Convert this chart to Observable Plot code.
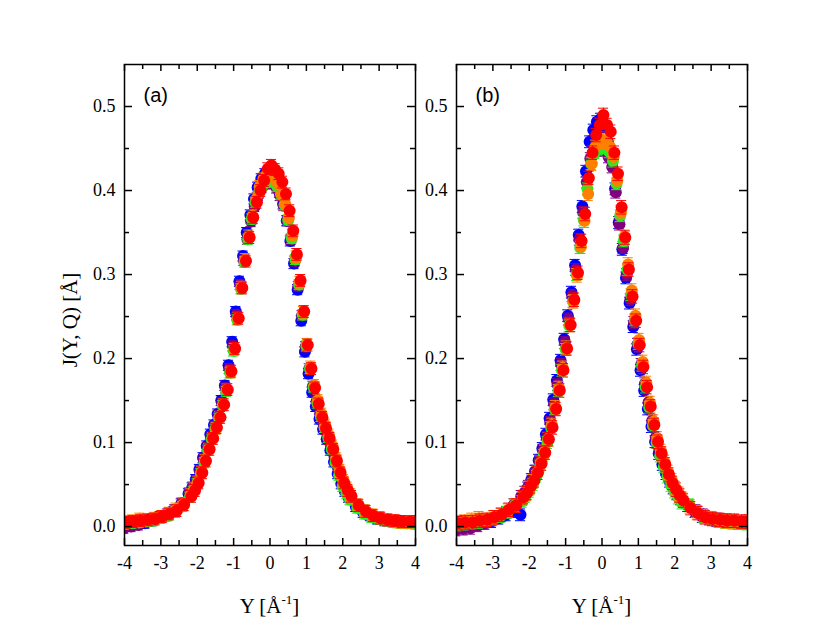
<!DOCTYPE html>
<html><head><meta charset="utf-8">
<script src="https://cdn.jsdelivr.net/npm/d3@7"></script>
<script src="https://cdn.jsdelivr.net/npm/@observablehq/plot@0.6"></script>
<style>
body{margin:0;background:#fff;}
#wrap{position:relative;width:830px;height:642px;overflow:hidden;background:#fff;}
#wrap svg{position:absolute;top:0;}
#wrap svg text.serif{font-family:"Liberation Serif","Times New Roman",serif !important;}
#wrap svg text.sans{font-family:"Liberation Sans",Arial,sans-serif !important;}
</style></head><body><div id="wrap"></div>
<script>
// Y grid (Å^-1) shared by all series
const yGrid = [-4.0,-3.8,-3.6,-3.4,-3.2,-3.0,-2.8,-2.6,-2.4,
  -2.2,-2.1,-2.0,-1.9,-1.8,-1.7,-1.6,-1.5,-1.4,-1.3,-1.2,-1.1,-1.0,-0.9,-0.8,-0.7,-0.6,-0.5,-0.4,-0.3,-0.2,-0.1,
  0.0,0.1,0.2,0.3,0.4,0.5,0.6,0.7,0.8,0.9,1.0,1.1,1.2,1.3,1.4,1.5,1.6,1.7,1.8,1.9,2.0,2.1,2.2,
  2.4,2.6,2.8,3.0,3.2,3.4,3.6,3.8,4.0];
const seriesColors = ["#0000ff","#800080","#22ee22","#ff8000","#ff0000"];
const seriesShift = [-0.04,-0.02,0.0,0.02,0.04];
const errA = [0.006,0.006,0.006,0.007,0.007];
const errB = [0.007,0.007,0.007,0.008,0.008];

// Panel (a)
const aBlue = [0.001,0.001,0.003,0.004,0.007,0.010,0.013,0.018,0.027,
  0.039,0.046,0.056,0.068,0.082,0.096,0.110,0.121,0.134,0.150,0.168,0.192,0.220,0.256,0.292,0.322,0.350,0.371,0.390,0.404,0.414,0.420,
  0.422,0.418,0.410,0.398,0.384,0.364,0.340,0.313,0.282,0.245,0.208,0.182,0.160,0.143,0.128,0.116,0.104,0.091,0.077,0.063,0.051,0.042,0.035,
  0.024,0.017,0.013,0.009,0.007,0.006,0.005,0.004,0.005];
const aPurple = [-0.002,0.000,0.002,0.006,0.009,0.012,0.015,0.020,0.028,
  0.040,0.047,0.055,0.066,0.080,0.094,0.107,0.119,0.132,0.147,0.165,0.188,0.215,0.252,0.288,0.317,0.342,0.363,0.381,0.394,0.404,0.408,
  0.410,0.408,0.403,0.394,0.382,0.364,0.342,0.316,0.286,0.251,0.214,0.188,0.167,0.149,0.134,0.121,0.109,0.096,0.082,0.068,0.056,0.047,0.039,
  0.027,0.020,0.014,0.010,0.008,0.007,0.007,0.005,0.004];
const aGreen = [0.003,0.004,0.005,0.006,0.007,0.010,0.013,0.017,0.024,
  0.035,0.042,0.051,0.063,0.076,0.091,0.104,0.116,0.129,0.144,0.161,0.183,0.209,0.246,0.283,0.315,0.342,0.366,0.386,0.398,0.406,0.410,
  0.412,0.410,0.405,0.396,0.383,0.365,0.343,0.318,0.288,0.252,0.215,0.188,0.166,0.147,0.131,0.118,0.106,0.092,0.076,0.061,0.048,0.039,0.032,
  0.022,0.015,0.011,0.009,0.007,0.005,0.004,0.004,0.003];
const aOrange = [0.006,0.007,0.009,0.008,0.010,0.012,0.016,0.021,0.027,
  0.038,0.045,0.053,0.065,0.079,0.092,0.105,0.117,0.130,0.145,0.163,0.184,0.211,0.248,0.285,0.318,0.346,0.370,0.390,0.405,0.414,0.420,
  0.418,0.415,0.408,0.396,0.384,0.368,0.347,0.321,0.291,0.255,0.217,0.190,0.168,0.150,0.134,0.121,0.109,0.096,0.081,0.067,0.055,0.046,0.038,
  0.026,0.019,0.014,0.011,0.008,0.007,0.005,0.005,0.006];
const aRed = [0.005,0.006,0.007,0.008,0.009,0.012,0.015,0.019,0.026,
  0.036,0.043,0.052,0.064,0.078,0.092,0.105,0.118,0.130,0.145,0.163,0.185,0.212,0.248,0.284,0.316,0.344,0.368,0.386,0.400,0.412,0.426,
  0.430,0.425,0.420,0.410,0.396,0.376,0.352,0.324,0.293,0.256,0.216,0.188,0.165,0.146,0.130,0.117,0.105,0.092,0.078,0.064,0.052,0.043,0.036,
  0.025,0.018,0.013,0.010,0.008,0.007,0.006,0.006,0.006];

// Panel (b)
const bBlue = [0.001,0.002,0.001,0.003,0.004,0.006,0.010,0.014,0.018,
  0.014,0.036,0.046,0.056,0.066,0.079,0.093,0.110,0.129,0.151,0.174,0.198,0.223,0.251,0.279,0.311,0.347,0.381,0.423,0.458,0.472,0.482,
  0.485,0.476,0.458,0.440,0.402,0.362,0.330,0.296,0.266,0.238,0.211,0.186,0.162,0.140,0.119,0.101,0.087,0.074,0.063,0.054,0.046,0.039,0.033,
  0.025,0.018,0.012,0.009,0.007,0.006,0.005,0.004,0.004];
const bPurple = [-0.004,-0.003,-0.002,0.001,0.004,0.008,0.012,0.017,0.026,
  0.036,0.041,0.048,0.056,0.066,0.078,0.091,0.106,0.124,0.146,0.169,0.193,0.219,0.247,0.275,0.306,0.342,0.374,0.410,0.438,0.446,0.448,
  0.450,0.448,0.440,0.428,0.398,0.360,0.332,0.300,0.270,0.243,0.217,0.193,0.170,0.148,0.126,0.106,0.091,0.078,0.066,0.056,0.047,0.040,0.034,
  0.025,0.019,0.014,0.011,0.009,0.008,0.007,0.006,0.005];
const bGreen = [0.002,0.003,0.004,0.005,0.007,0.009,0.012,0.017,0.025,
  0.030,0.036,0.042,0.050,0.060,0.072,0.085,0.100,0.118,0.140,0.162,0.186,0.211,0.239,0.268,0.300,0.332,0.365,0.402,0.432,0.445,0.450,
  0.452,0.451,0.446,0.435,0.408,0.370,0.340,0.306,0.276,0.246,0.218,0.192,0.166,0.142,0.120,0.100,0.084,0.071,0.059,0.049,0.041,0.034,0.028,
  0.026,0.018,0.012,0.009,0.007,0.005,0.004,0.004,0.003];
const bOrange = [0.005,0.006,0.008,0.010,0.008,0.011,0.014,0.019,0.025,
  0.033,0.039,0.046,0.054,0.064,0.076,0.089,0.104,0.121,0.142,0.165,0.189,0.213,0.240,0.268,0.299,0.333,0.364,0.396,0.432,0.452,0.458,
  0.460,0.458,0.452,0.440,0.412,0.374,0.345,0.312,0.281,0.251,0.222,0.196,0.171,0.147,0.125,0.105,0.090,0.077,0.065,0.055,0.046,0.039,0.033,
  0.024,0.017,0.012,0.010,0.007,0.006,0.006,0.005,0.005];
const bRed = [0.004,0.005,0.005,0.007,0.008,0.011,0.014,0.020,0.025,
  0.035,0.040,0.048,0.055,0.064,0.075,0.088,0.104,0.118,0.140,0.162,0.186,0.212,0.240,0.270,0.302,0.340,0.372,0.415,0.445,0.466,0.478,
  0.490,0.478,0.470,0.445,0.420,0.380,0.344,0.306,0.274,0.245,0.216,0.190,0.166,0.143,0.121,0.101,0.087,0.074,0.062,0.052,0.044,0.037,0.031,
  0.022,0.016,0.011,0.009,0.008,0.007,0.007,0.006,0.006];

const xMajor = [-4,-3,-2,-1,0,1,2,3,4];
const xMinor = [-3.5,-2.5,-1.5,-0.5,0.5,1.5,2.5,3.5];
const yMajor = [0,0.1,0.2,0.3,0.4,0.5];
const yMinor = [0.05,0.15,0.25,0.35,0.45];
const panelLabels = ["(a)","(b)"];
const yTitle = "J(Y, Q) [Å]";

const H = 642, MT = 64, MB = 97, innerH = H - MT - MB;
const SERIF = "Liberation Serif, Times New Roman, serif";

function panel(seriesList, errs, label, width, ml, mr, left, showYTitle) {
  const innerW = width - ml - mr;
  const marks = [];
  seriesList.forEach((vals, k) => {
    const rows = vals.map((v, i) => ({x: yGrid[i] + seriesShift[k], y: v, e: errs[k]}));
    const c = seriesColors[k];
    marks.push(
      Plot.ruleX(rows, {x: "x", y1: d => d.y - d.e, y2: d => d.y + d.e, stroke: c, strokeWidth: 1, clip: true}),
      Plot.ruleY(rows, {y: d => d.y + d.e, x1: d => d.x - 0.14, x2: d => d.x + 0.14, stroke: c, strokeWidth: 1, clip: true}),
      Plot.ruleY(rows, {y: d => d.y - d.e, x1: d => d.x - 0.14, x2: d => d.x + 0.14, stroke: c, strokeWidth: 1, clip: true}),
      Plot.dot(rows, {x: "x", y: "y", r: 6, fill: c, stroke: "none", clip: true})
    );
  });
  marks.push(
    Plot.tickX(xMajor, {x: d => d, insetTop: innerH - 7, stroke: "black", strokeWidth: 1.5}),
    Plot.tickX(xMinor, {x: d => d, insetTop: innerH - 5, stroke: "black", strokeWidth: 1.5}),
    Plot.tickX(xMajor, {x: d => d, insetBottom: innerH - 7, stroke: "black", strokeWidth: 1.5}),
    Plot.tickX(xMinor, {x: d => d, insetBottom: innerH - 5, stroke: "black", strokeWidth: 1.5}),
    Plot.tickY(yMajor, {y: d => d, insetRight: innerW - 8, stroke: "black", strokeWidth: 1.5}),
    Plot.tickY(yMinor, {y: d => d, insetRight: innerW - 5, stroke: "black", strokeWidth: 1.5}),
    Plot.tickY(yMajor, {y: d => d, insetLeft: innerW - 8, stroke: "black", strokeWidth: 1.5}),
    Plot.tickY(yMinor, {y: d => d, insetLeft: innerW - 5, stroke: "black", strokeWidth: 1.5}),
    Plot.frame({stroke: "black", strokeWidth: 1.5}),
    Plot.text(xMajor, {x: d => d, text: d => `${d}`, frameAnchor: "bottom", lineAnchor: "top", dy: 11, fontSize: 18, fill: "black"}),
    Plot.text(yMajor, {y: d => d, text: d => d.toFixed(1), frameAnchor: "left", textAnchor: "end", dx: -9, fontSize: 18, fill: "black"}),
    Plot.text([label], {text: d => d, frameAnchor: "top-left", dx: 19, dy: 23, lineAnchor: "top", fontSize: 20, fill: "black"})
  );
  const svg = Plot.plot({
    width, height: H, marginTop: MT, marginBottom: MB, marginLeft: ml, marginRight: mr,
    x: {domain: [-4, 4], axis: null},
    y: {domain: [-0.0225, 0.55], axis: null},
    style: {background: "transparent", overflow: "visible", color: "black"},
    marks
  });
  svg.style.left = left + "px";
  const s = d3.select(svg);
  s.selectAll("text").each(function() {
    const isLabel = this.textContent.trim().startsWith("(");
    d3.select(this).attr("class", isLabel ? "sans" : "serif")
      .style("font-family", isLabel ? "Liberation Sans, Arial, sans-serif" : SERIF);
  });
  const cx = ml + innerW / 2;
  const t = s.append("text").attr("class", "serif").attr("x", cx).attr("y", 613).attr("text-anchor", "middle")
    .attr("font-size", 21).attr("fill", "black");
  t.append("tspan").text("Y [Å");
  t.append("tspan").attr("font-size", 13).attr("dy", -9).text("-1");
  t.append("tspan").attr("dy", 9).text("]");
  if (showYTitle) {
    s.append("text").attr("class", "serif").attr("transform", `translate(${ml - 47},320) rotate(-90)`).attr("text-anchor", "middle")
      .attr("font-size", 21).attr("fill", "black").text(yTitle);
  }
  document.getElementById("wrap").appendChild(svg);
}

panel([aBlue, aPurple, aGreen, aOrange, aRed], errA, panelLabels[0], 430, 124, 15, 0, true);
panel([bBlue, bPurple, bGreen, bOrange, bRed], errB, panelLabels[1], 415, 41, 83, 415, false);
</script></body></html>
